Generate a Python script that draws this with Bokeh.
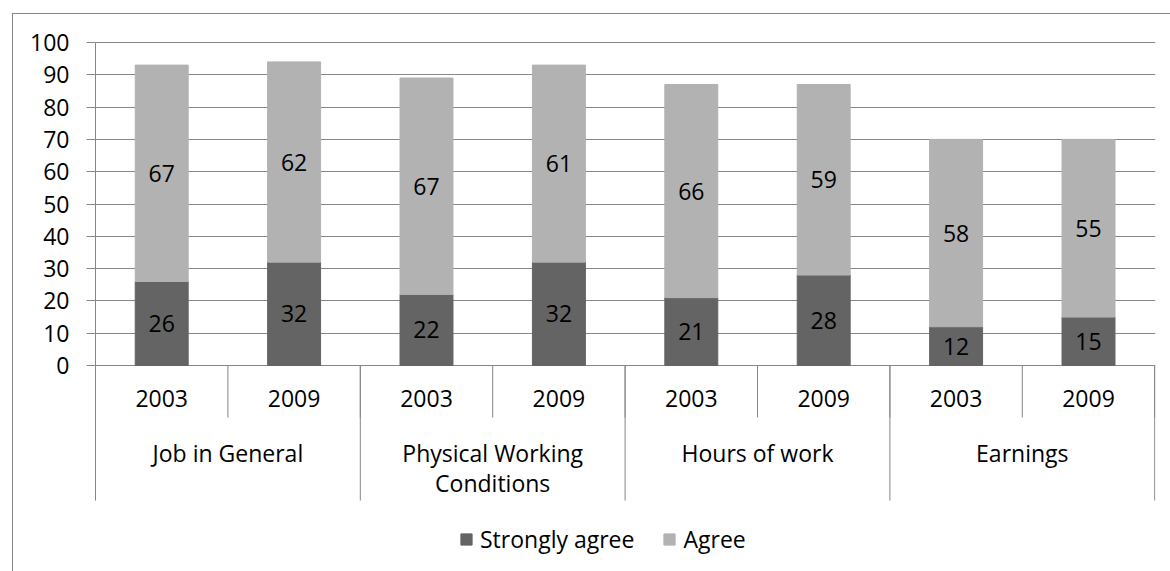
import numpy as np
from bokeh.plotting import figure
from bokeh.models import (ColumnDataSource, Range1d, FixedTicker, InlineStyleSheet,
                          Legend, LegendItem)
from bokeh.core.properties import value
from bokeh.embed import file_html
from bokeh.resources import INLINE

# ---- data -------------------------------------------------------------
groups = ["Job in General", "Physical Working\nConditions", "Hours of work", "Earnings"]
years = ["2003", "2009"]
strongly_agree = [26, 32, 22, 32, 21, 28, 12, 15]
agree = [67, 62, 67, 61, 66, 59, 58, 55]
series_names = ["Strongly agree", "Agree"]
y_ticks = list(range(0, 101, 10))

# ---- style ------------------------------------------------------------
DARK = "#646464"
LIGHT = "#b2b2b2"
LINE = "#868686"
FONT = "Open Sans"
FS = "23px"

# ---- geometry (pixels) ------------------------------------------------
W, H = 1170, 571
LEFT, RIGHT, TOP = 95, 1155, 40
ZERO_PX, HUNDRED_PX = 365, 42
k = (ZERO_PX - HUNDRED_PX) / 100.0
y_end = 100 + (HUNDRED_PX - TOP) / k
y_start = -(H - ZERO_PX) / k


def depth(px):
    """data-y for a pixel row below the zero line"""
    return -(px - ZERO_PX) / k


n = len(strongly_agree)
x = np.arange(n) + 0.5
year_labels = [yr for _ in groups for yr in years]

# chart-area border drawn around the whole plot (top and left edges visible)
border_css = InlineStyleSheet(css=f"""
:host {{ position: relative; }}
:host::after {{
  content: "";
  position: absolute;
  left: 12px; top: 13px; right: 0px; bottom: 0px;
  border-top: 1px solid {LINE};
  border-left: 1px solid {LINE};
  pointer-events: none;
  z-index: 10;
}}
""")

p = figure(width=W, height=H,
           x_range=Range1d(0, n + 0.006), y_range=Range1d(y_start, y_end),
           output_backend="svg", toolbar_location=None, x_axis_location=None,
           min_border_left=LEFT, min_border_right=W - RIGHT,
           min_border_top=TOP, min_border_bottom=0,
           stylesheets=[border_css])
p.outline_line_color = None
p.background_fill_color = "white"
p.border_fill_color = "white"

# value axis
yax = p.yaxis[0]
yax.ticker = FixedTicker(ticks=y_ticks)
yax.bounds = (depth(500), 100)
yax.major_tick_out = 9
yax.major_tick_in = 0
yax.minor_tick_out = 0
yax.minor_tick_in = 0
yax.axis_line_color = LINE
yax.major_tick_line_color = LINE
yax.major_label_standoff = 17
yax.major_label_text_font = FONT
yax.major_label_text_font_size = FS
yax.major_label_text_color = "black"

p.xgrid.visible = False
p.ygrid.ticker = FixedTicker(ticks=y_ticks)
p.ygrid.grid_line_color = LINE

# stacked bars
source = ColumnDataSource(dict(x=x, strong=strongly_agree, agree=agree))
rs = p.vbar_stack(["strong", "agree"], x="x", width=0.4,
                  color=[DARK, LIGHT], source=source)

# value labels centred in each segment
lbl_x = list(x) * 2
lbl_y = [s / 2 for s in strongly_agree] + [s + a / 2 for s, a in zip(strongly_agree, agree)]
lbl_t = [str(v) for v in strongly_agree] + [str(v) for v in agree]
p.text(x=lbl_x, y=lbl_y, text=lbl_t, text_font=value(FONT), text_font_size=FS,
       text_align="center", text_baseline="middle", text_color="black")

# two-level category axis
year_bounds = np.arange(n + 1)
group_bounds = np.arange(0, n + 1, len(years))
p.segment(x0=year_bounds, y0=0, x1=year_bounds, y1=depth(417), line_color=LINE, line_width=1)
p.segment(x0=group_bounds, y0=0, x1=group_bounds, y1=depth(500), line_color=LINE, line_width=1)

p.text(x=x, y=[depth(398)] * n, text=year_labels, text_font=value(FONT), text_font_size=FS,
       text_align="center", text_baseline="middle", text_color="black")

gx, gy, gt = [], [], []
for gi, g in enumerate(groups):
    for j, line in enumerate(g.split("\n")):
        gx.append(gi * len(years) + len(years) / 2)
        gy.append(depth(452 + 30 * j))
        gt.append(line)
p.text(x=gx, y=gy, text=gt, text_font=value(FONT), text_font_size=FS,
       text_align="center", text_baseline="middle", text_color="black")

# legend
legend = Legend(items=[LegendItem(label=series_names[i], renderers=[rs[i]]) for i in range(2)],
                orientation="horizontal", location=(364, 16),
                glyph_width=14, glyph_height=14, label_standoff=7, spacing=28,
                padding=0, margin=0, border_line_color=None, background_fill_alpha=0,
                label_text_font=FONT, label_text_font_size=FS, label_text_color="black")
p.add_layout(legend)

open("out.html", "w").write(file_html(p, INLINE))
